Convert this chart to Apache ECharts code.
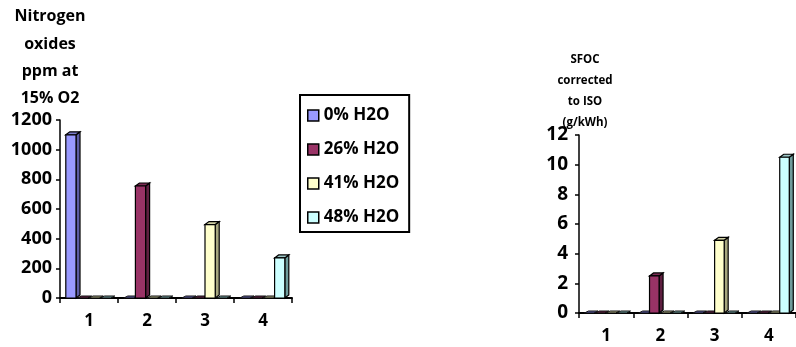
<!DOCTYPE html>
<html>
<head>
<meta charset="utf-8">
<style>
  html, body { margin: 0; padding: 0; background: #ffffff; }
  #chart { width: 796px; height: 347px; }
</style>
<script src="https://cdn.jsdelivr.net/npm/echarts@6/dist/echarts.min.js"></script>
</head>
<body>
<div id="chart"></div>
<script>
// Test points on the x axis
const categories = ['1', '2', '3', '4'];
const seriesNames = ['0% H2O', '26% H2O', '41% H2O', '48% H2O'];

// Nitrogen oxides, ppm at 15% O2
const nox0 = [1100, 0, 0, 0];
const nox26 = [0, 755, 0, 0];
const nox41 = [0, 0, 495, 0];
const nox48 = [0, 0, 0, 270];

// SFOC corrected to ISO, g/kWh
const sfoc0 = [0, 0, 0, 0];
const sfoc26 = [0, 2.5, 0, 0];
const sfoc41 = [0, 0, 4.9, 0];
const sfoc48 = [0, 0, 0, 10.5];

const noxTicks = { min: 0, max: 1200, interval: 200 };
const sfocTicks = { min: 0, max: 12, interval: 2 };

const faceColors = ['#9999FF', '#993366', '#FFFFCC', '#CCFFFF'];
const sideColors = ['#5C5CA3', '#5E1F40', '#A6A67E', '#6E9C9C'];
const topColors = ['#7A7AC9', '#7A2A52', '#CFCFA3', '#9CC7C7'];

const FONT = '"Open Sans", "Liberation Sans", sans-serif';

// Column with a front face, a right side face and a top face;
// a zero value leaves only a dark sliver on the floor
function makeRenderer(s) {
  return function (params, api) {
    const cat = api.value(0);
    const val = api.value(1);
    const base = api.coord([cat, 0]);
    const top = api.coord([cat, val]);
    const band = api.size([1, 0])[0];
    const slot = band * 0.2;
    const fw = slot * 0.88;
    const dx = 4, dy = 3;
    const x0 = base[0] - band / 2 + band * 0.1 + s * slot;
    const x1 = x0 + fw;
    const yb = base[1];
    const yt = top[1];
    if (val === 0) {
      return {
        type: 'polygon',
        shape: { points: [[x0, yb], [x0 + dx, yb - 2], [x1 + dx, yb - 2], [x1, yb]] },
        style: { fill: sideColors[s], stroke: '#111', lineWidth: 1 }
      };
    }
    const stroke = { stroke: '#000', lineWidth: 1.2 };
    return {
      type: 'group',
      children: [
        {
          type: 'polygon',
          shape: { points: [[x1, yt], [x1 + dx, yt - dy], [x1 + dx, yb - dy], [x1, yb]] },
          style: Object.assign({ fill: sideColors[s] }, stroke)
        },
        {
          type: 'polygon',
          shape: { points: [[x0, yt], [x0 + dx, yt - dy], [x1 + dx, yt - dy], [x1, yt]] },
          style: Object.assign({ fill: topColors[s] }, stroke)
        },
        {
          type: 'rect',
          shape: { x: x0, y: yt, width: fw, height: yb - yt },
          style: Object.assign({ fill: faceColors[s] }, stroke)
        }
      ]
    };
  };
}

function columnSeries(values, s, gridIndex) {
  return {
    type: 'custom',
    name: seriesNames[s],
    xAxisIndex: gridIndex,
    yAxisIndex: gridIndex,
    clip: false,
    itemStyle: { color: faceColors[s] },
    encode: { x: 0, y: 1 },
    data: values.map((v, i) => [i, v]),
    renderItem: makeRenderer(s)
  };
}

function xAxisFor(gridIndex) {
  return {
    type: 'category',
    gridIndex: gridIndex,
    data: categories,
    boundaryGap: true,
    axisLine: { show: true, lineStyle: { color: '#000', width: 2 } },
    axisTick: { show: true, alignWithLabel: false, length: 5, lineStyle: { color: '#000', width: 1.5 } },
    axisLabel: { color: '#000', fontFamily: FONT, fontWeight: 'bold', fontSize: 17, margin: 15 },
    splitLine: { show: false }
  };
}

function yAxisFor(gridIndex, ticks, fontSize, margin) {
  return {
    type: 'value',
    gridIndex: gridIndex,
    min: ticks.min,
    max: ticks.max,
    interval: ticks.interval,
    axisLine: { show: true, lineStyle: { color: '#000', width: 1.5 } },
    axisTick: { show: true, length: 4, lineStyle: { color: '#000', width: 1.5 } },
    axisLabel: {
      color: '#000', fontFamily: FONT, fontWeight: 'bold', fontSize: fontSize, margin: margin,
      formatter: (v) => String(v)
    },
    splitLine: { show: false }
  };
}

const chart = echarts.init(document.getElementById('chart'), null, { renderer: 'canvas' });

chart.setOption({
  backgroundColor: '#ffffff',
  animation: false,
  grid: [
    { left: 60, top: 120, width: 232, height: 178 },
    { left: 579, top: 135, width: 223, height: 178 }
  ],
  xAxis: [xAxisFor(0), xAxisFor(1)],
  yAxis: [yAxisFor(0, noxTicks, 18, 8), yAxisFor(1, sfocTicks, 19, 11)],
  legend: {
    data: seriesNames,
    orient: 'vertical',
    left: 300,
    top: 95,
    icon: 'rect',
    itemWidth: 11,
    itemHeight: 11,
    itemGap: 17,
    padding: [12, 10, 6, 7],
    borderColor: '#000',
    borderWidth: 2,
    backgroundColor: '#fff',
    itemStyle: { borderColor: '#000', borderWidth: 1.5 },
    textStyle: { color: '#000', fontFamily: FONT, fontWeight: 'bold', fontSize: 17, lineHeight: 16 }
  },
  graphic: [
    {
      type: 'text',
      x: 50,
      y: 3,
      style: {
        text: 'Nitrogen\noxides\nppm at\n15% O2',
        textAlign: 'center',
        textVerticalAlign: 'top',
        fill: '#000',
        font: 'bold 16px ' + FONT,
        lineHeight: 27.3
      }
    },
    {
      type: 'text',
      x: 585,
      y: 49,
      style: {
        text: 'SFOC\ncorrected\nto ISO\n(g/kWh)',
        textAlign: 'center',
        textVerticalAlign: 'top',
        fill: '#000',
        font: 'bold 11.5px ' + FONT,
        lineHeight: 21
      }
    }
  ],
  series: [
    columnSeries(nox0, 0, 0),
    columnSeries(nox26, 1, 0),
    columnSeries(nox41, 2, 0),
    columnSeries(nox48, 3, 0),
    columnSeries(sfoc0, 0, 1),
    columnSeries(sfoc26, 1, 1),
    columnSeries(sfoc41, 2, 1),
    columnSeries(sfoc48, 3, 1)
  ]
});
</script>
</body>
</html>
